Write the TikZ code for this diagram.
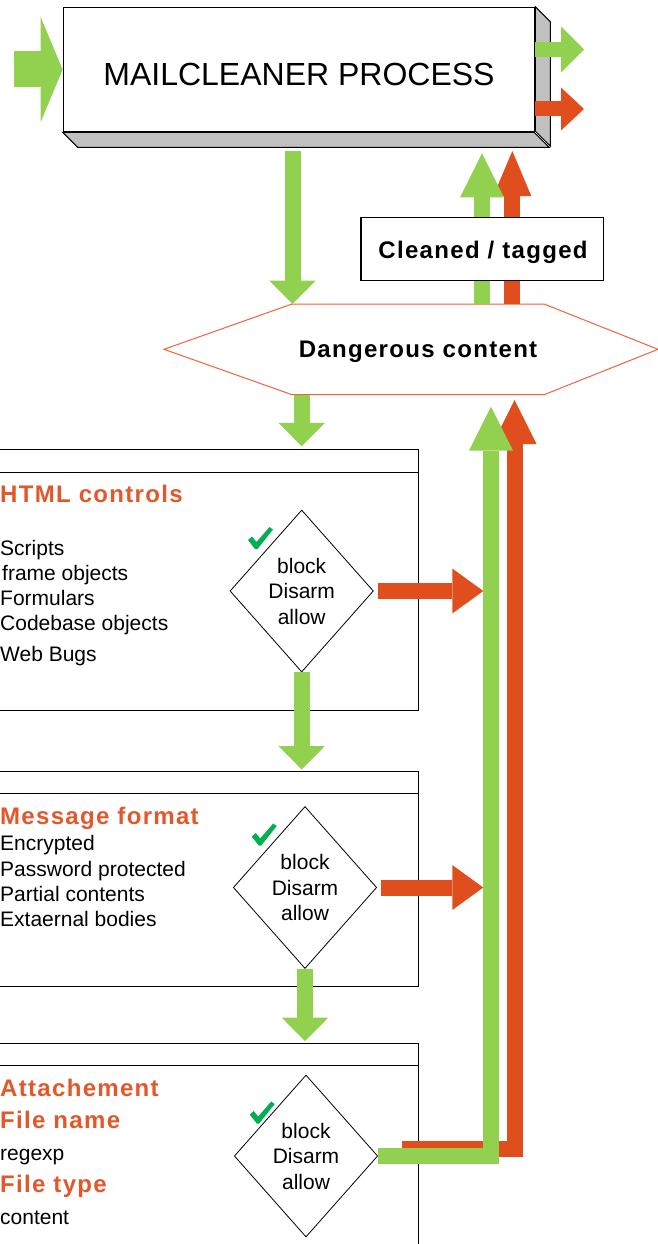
\documentclass[tikz,border=0pt]{standalone}
\usepackage{fontspec}
\setmainfont{Liberation Sans}
\newfontfamily\spaced[LetterSpace=5.5]{Liberation Sans}
\usetikzlibrary{arrows.meta,shapes.geometric}
\definecolor{mgreen}{HTML}{92D050}
\definecolor{mred}{HTML}{E04E1E}
\definecolor{mtitle}{HTML}{E4572A}
\definecolor{mhex}{HTML}{F0643C}
\definecolor{mside}{HTML}{C0C0C0}
\definecolor{mcheck}{HTML}{00B050}
\begin{document}
\begin{tikzpicture}[x=1pt,y=-1pt,
  gband/.style={draw=mgreen, line width=16pt},
  rband/.style={draw=mred, line width=16pt},
  headdown/.style={-{Triangle[length=23.5pt,width=46.5pt,line width=0pt]}},
  headup/.style={-{Triangle[length=44pt,width=44pt,line width=0pt]}},
  headright/.style={-{Triangle[length=31pt,width=45pt,line width=0pt]}},
  boxnode/.style={draw=black, line width=1pt, inner sep=0pt, anchor=north east},
  dia/.style={diamond, draw=black, line width=0.8pt, fill=white, minimum width=143.4pt, minimum height=162pt, inner sep=0pt, align=center, font=\fontsize{21}{25.5}\selectfont},
  title/.style={anchor=base west, inner sep=0pt, text=mtitle, font=\spaced\bfseries\fontsize{24}{28}\selectfont},
  item/.style={anchor=base west, inner sep=0pt, font=\fontsize{21}{25.5}\selectfont},
  bold/.style={anchor=base, inner sep=0pt, font=\spaced\bfseries\fontsize{24}{28}\selectfont},
  chk/.pic={\fill[mcheck] (0,13) -- (4,9.5) -- (8.5,15) -- (21.5,0) -- (25,2.5) -- (9.5,22) -- (7,22) -- cycle;}
]
\useasboundingbox (0,0) rectangle (658,1244);

% ---- main process box ----
\node[draw=black, line width=1.2pt, fill=white, minimum width=471.5pt, minimum height=124.4pt, inner sep=0pt] (main) at (299,69.5) {};
\draw[line width=1pt, fill=mside] (main.north east) -- ++(15,15) -- ++(0,124.4) -- ++(-15,-15) -- cycle;
\draw[line width=1pt, fill=mside] (main.south west) -- ++(15,15) -- ++(471.5,0) -- ++(-15,-15) -- cycle;
\node[anchor=base, inner sep=0pt, font=\fontsize{32}{38}\selectfont] (maintitle) at (299,86) {MAILCLEANER PROCESS};

% input / output arrows
\coordinate (in) at (13.9,69.5);
\draw[draw=mgreen, line width=36pt, -{Triangle[length=22pt,width=105pt,line width=0pt]}] (in) -- (main.west);
\coordinate (outg) at (584,49.5);
\coordinate (outr) at (584,109);
\draw[draw=mgreen, line width=15pt, -{Triangle[length=23pt,width=46pt,line width=0pt]}] (main.east |- outg) -- (outg);
\draw[draw=mred, line width=15pt, -{Triangle[length=23pt,width=43pt,line width=0pt]}] (main.east |- outr) -- (outr);

% ---- dangerous content hexagon ----
\coordinate (hW) at (164,349.3);
\coordinate (hNW) at (292,304);
\coordinate (hNE) at (544,304);
\coordinate (hE) at (658,349.3);
\coordinate (hSE) at (544,394.7);
\coordinate (hSW) at (292,394.7);
\draw[draw=mhex, line width=1pt, fill=white] (hW) -- (hNW) -- (hNE) -- (hE) -- (hSE) -- (hSW) -- cycle;
\node[bold] (hex) at (418,357.3) {Dangerous content};

% main -> hexagon
\coordinate (mainbot) at (292.5,151);
\draw[gband, headdown] (mainbot) -- (mainbot |- hNW);

% hexagon -> main (cleaned / tagged)
\coordinate (rUpS) at (512.3,304);
\coordinate (rUpE) at (512.3,151);
\coordinate (gUpS) at (482,304);
\coordinate (gUpE) at (482,153.3);
\draw[rband, -{Triangle[length=45pt,width=38pt,line width=0pt]}] (rUpS) -- (rUpE);
\draw[gband, headup] (gUpS) -- (gUpE);
\node[draw=black, line width=1.2pt, fill=white, minimum width=242.3pt, minimum height=63.4pt, inner sep=0pt] (clean) at (482.2,249) {};
\node[bold] (cleantext) at (483,258.3) {Cleaned / tagged};

% ---- boxes ----
\node[boxnode, minimum width=429pt, minimum height=260.7pt] (html) at (419,449.3) {};
\draw[line width=1pt] ([yshift=-23pt]html.north west) -- ([yshift=-23pt]html.north east);
\node[boxnode, minimum width=429pt, minimum height=214.7pt] (msg) at (418.5,771) {};
\draw[line width=1pt] ([yshift=-22.3pt]msg.north west) -- ([yshift=-22.3pt]msg.north east);
\node[boxnode, minimum width=429pt, minimum height=230pt] (att) at (419,1042.7) {};
\draw[line width=1pt] ([yshift=-22.3pt]att.north west) -- ([yshift=-22.3pt]att.north east);

% hexagon -> html
\coordinate (hexS) at (301.7,394.7);
\draw[gband, headdown, shorten >=3pt] (hexS) -- (hexS |- html.north);

% ---- HTML controls ----
\node[title] (t1) at (0,502.3) {HTML controls};
\node[item] (i11) at (0,555) {Scripts};
\node[item] (i12) at (2,580) {frame objects};
\node[item] (i13) at (0,605.7) {Formulars};
\node[item] (i14) at (0,630.7) {Codebase objects};
\node[item] (i15) at (0,661.7) {Web Bugs};
\node[dia] (d1) at (301.7,591) {block\\Disarm\\allow};
\pic (c1) at (248,527) {chk};

% ---- Message format ----
\node[title] (t2) at (0,824) {Message format};
\node[item] (i21) at (0,850) {Encrypted};
\node[item] (i22) at (0,876.7) {Password protected};
\node[item] (i23) at (0,901.7) {Partial contents};
\node[item] (i24) at (0,926.7) {Extaernal bodies};
\node[dia] (d2) at (305,887.5) {block\\Disarm\\allow};
\pic (c2) at (251.7,823.5) {chk};

% ---- Attachement ----
\node[title] (t3) at (0,1096.7) {Attachement};
\node[title] (t4) at (0,1128.3) {File name};
\node[item] (i31) at (0,1160.7) {regexp};
\node[title] (t5) at (0,1192.3) {File type};
\node[item] (i32) at (0,1224) {content};
\node[dia] (d3) at (306,1156) {block\\Disarm\\allow};
\pic (c3) at (249.7,1101.5) {chk};

% between boxes
\draw[gband, headdown, shorten >=1.5pt] (d1.south) -- (d1.south |- msg.north);
\draw[gband, headdown, shorten >=1.5pt] (d2.south) -- (d2.south |- att.north);

% red arrows to the return path
\coordinate (gl) at (483.3,0);
\draw[rband, headright, shorten <=4pt] (d1.east) -- (d1.east -| gl);
\draw[rband, headright, shorten <=4pt] (d2.east) -- (d2.east -| gl);

% return paths
\coordinate (rstart) at (402,1149);
\coordinate (rcorner) at (514.5,1149);
\coordinate (rtip) at (514.5,400);
\draw[rband, headup] (rstart) -- (rcorner) -- (rtip);
\coordinate (gcorner) at (491,1156);
\coordinate (gtip) at (491,406.7);
\draw[gband, headup] (d3.east) -- (gcorner) -- (gtip);
\end{tikzpicture}
\end{document}
